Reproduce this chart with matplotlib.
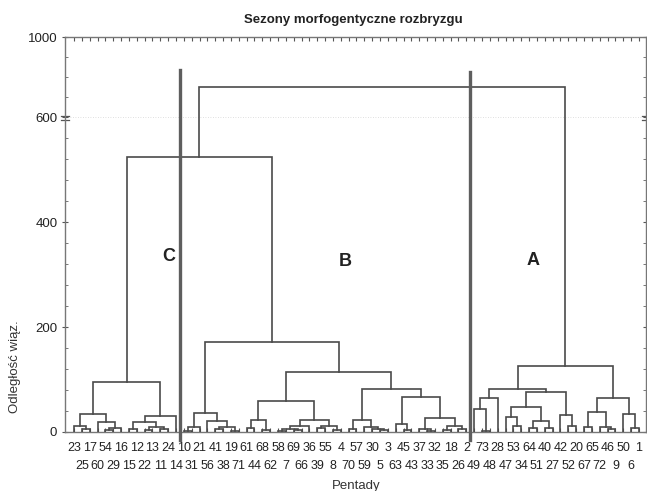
import numpy as np
import matplotlib
matplotlib.use("Agg")
import matplotlib.pyplot as plt

plt.rcParams['font.family'] = ['Liberation Sans', 'DejaVu Sans']

# leaf order (pentads)
pentads = [23, 25, 17, 60, 54, 29, 16, 15, 12, 22, 13, 11, 24, 14, 10, 31, 21, 56,
           41, 38, 19, 71, 61, 44, 68, 62, 58, 7, 69, 66, 36, 39, 55, 8, 4, 70,
           57, 59, 30, 5, 3, 63, 45, 43, 37, 33, 32, 35, 18, 26, 2, 49, 73, 48,
           28, 47, 53, 34, 64, 51, 40, 27, 42, 52, 20, 67, 65, 72, 46, 9, 50, 6, 1]

# merges: (node, left child, right child, linkage distance); ints are leaf positions
merges = [
    ("c1", 1, 2, 5), ("c2", 0, "c1", 12), ("c3", 4, 5, 4), ("c4", "c3", 6, 8),
    ("c5", 3, "c4", 20), ("cL", "c2", "c5", 34),
    ("c6", 7, 8, 5), ("c7", 9, 10, 4), ("c8", 11, 12, 6), ("c9", "c7", "c8", 10),
    ("c10", "c6", "c9", 19), ("cR", "c10", 13, 30), ("C", "cL", "cR", 95),
    ("b1", 14, 15, 2), ("b2", "b1", 16, 10), ("b3", 18, 19, 5), ("b4", 20, 21, 1.5),
    ("b5", "b3", "b4", 10), ("b6", 17, "b5", 21), ("bL", "b2", "b6", 36),
    ("b7", 22, 23, 8), ("b8", 24, 25, 3), ("b9", "b7", "b8", 23),
    ("b10", 26, 27, 1.5), ("b11", 28, 29, 4), ("b12", "b10", "b11", 6), ("b13", "b12", 30, 12),
    ("b14", 31, 32, 8), ("b15", 33, 34, 4), ("b16", "b14", "b15", 11),
    ("b17", "b13", "b16", 22), ("bRL", "b9", "b17", 59),
    ("b18", 35, 36, 6), ("b19", 39, 40, 3), ("b20", 38, "b19", 6), ("b21", 37, "b20", 10),
    ("b22", "b18", "b21", 22),
    ("b23", 42, 43, 3), ("b24", 41, "b23", 16),
    ("b25", 45, 46, 2), ("b26", 44, "b25", 6), ("b27", 47, 48, 4), ("b28", 49, 50, 5),
    ("b29", "b27", "b28", 12), ("b30", "b26", "b29", 26),
    ("b31", "b24", "b30", 66), ("b32", "b22", "b31", 82), ("bR", "bRL", "b32", 114),
    ("B", "bL", "bR", 171), ("CB", "C", "B", 524),
    ("a1", 52, 53, 2), ("a2", 51, "a1", 44), ("a3", "a2", 54, 65),
    ("a4", 56, 57, 12), ("a5", 55, "a4", 28), ("a6", 58, 59, 8), ("a7", 60, 61, 8),
    ("a8", "a6", "a7", 21), ("a9", "a5", "a8", 47),
    ("a10", 63, 64, 12), ("a11", 62, "a10", 32), ("a12", "a9", "a11", 76),
    ("aL", "a3", "a12", 82),
    ("a13", 65, 66, 9), ("a14", 68, 69, 6), ("a15", 67, "a14", 10), ("a16", "a13", "a15", 38),
    ("a17", 71, 72, 8), ("a18", 70, "a17", 34), ("aR", "a16", "a18", 65),
    ("A", "aL", "aR", 126), ("root", "CB", "A", 750),
]

# cluster separators (position between leaves, top height) and labels
separators = [(13.5, 835), (50.5, 825)]
cluster_names = ["C", "B", "A"]
cluster_pos = [(12.1, 335), (34.6, 324), (58.5, 326)]

y_ticks = [0, 200, 400, 600, 1000]

K = 152.4 / 400.0


def fwd(y):
    y = np.asarray(y, dtype=float)
    return np.where(y <= 600, y, 600 + (y - 600) * K)


def inv(u):
    u = np.asarray(u, dtype=float)
    return np.where(u <= 600, u, 600 + (u - 600) / K)


fig = plt.figure(figsize=(6.47, 4.91), dpi=100)
ax = fig.add_axes([65 / 647, 1 - 432 / 491, 581 / 647, (432 - 37) / 491])
ax.set_yscale('function', functions=(fwd, inv))

lc = '#4a4a4a'
pos = {}
hgt = {}
for i in range(len(pentads)):
    pos[i] = float(i)
    hgt[i] = 0.0
for name, l, r, h in merges:
    xl, xr = pos[l], pos[r]
    ax.plot([xl, xl, xr, xr], [hgt[l], h, h, hgt[r]], color=lc, lw=1.2,
            solid_joinstyle='miter', zorder=3)
    pos[name] = (xl + xr) / 2
    hgt[name] = h

for xs, top in separators:
    ax.plot([xs, xs], [-16, top], color='#5e5e5e', lw=2.4, clip_on=False, zorder=4)

for nm, (xx, yy) in zip(cluster_names, cluster_pos):
    ax.text(xx, yy, nm, fontsize=13, fontweight='bold', ha='center', va='center',
            color='#222222')

# faint break line at 600
ax.axhline(600, color='#d5d5d5', lw=0.6, ls=(0, (1, 2)), zorder=1)

ax.set_xlim(-1.15, 72.9)
ax.set_ylim(0, 1000)

n = len(pentads)
ax.set_xticks(list(range(0, n, 2)))
ax.set_xticklabels([str(pentads[i]) for i in range(0, n, 2)])
ax.set_xticks(list(range(1, n, 2)), minor=True)
ax.set_xticklabels([str(pentads[i]) for i in range(1, n, 2)], minor=True)
ax.tick_params(axis='x', which='major', direction='in', length=3, width=0.8,
               pad=7, labelsize=9, top=True, colors='#555555', labelcolor='#222222')
ax.tick_params(axis='x', which='minor', direction='in', length=3, width=0.8,
               pad=20, labelsize=9, top=True, colors='#555555', labelcolor='#222222')

ax.set_yticks(y_ticks)
ax.set_yticklabels([str(v) for v in y_ticks])
ax.set_yticks([v for v in range(40, 600, 40) if v % 200 != 0] +
              [v for v in range(700, 1000, 100)], minor=True)
ax.tick_params(axis='y', which='major', direction='inout', length=5, width=0.8,
               labelsize=9.5, right=True, colors='#555555', labelcolor='#222222', pad=3)
ax.tick_params(axis='y', which='minor', direction='in', length=2.5, width=0.7,
               right=True, colors='#777777')

for sp in ax.spines.values():
    sp.set_color('#777777')
    sp.set_linewidth(1.0)

# break marks on both spines at 600
trans = ax.get_yaxis_transform()
for xa in (0.0, 1.0):
    for dy in (-6, 6):
        ax.plot([xa - 0.007, xa + 0.007], [600 + dy, 600 + dy], transform=trans,
                color='#555555', lw=0.9, clip_on=False)

fig.text(353 / 647, 1 - 20 / 491, "Sezony morfogentyczne rozbryzgu", ha='center',
         va='center', fontsize=9.5, fontweight='bold', color='#222222')
fig.text(356 / 647, 1 - 486 / 491, "Pentady", ha='center', va='center',
         fontsize=9.5, color='#333333')
fig.text(15 / 647, 1 - 367 / 491, "Odległość wiąz.", ha='center', va='center',
         rotation=90, fontsize=9.5, color='#333333')

fig.savefig("out.png", dpi=100, facecolor='white')
